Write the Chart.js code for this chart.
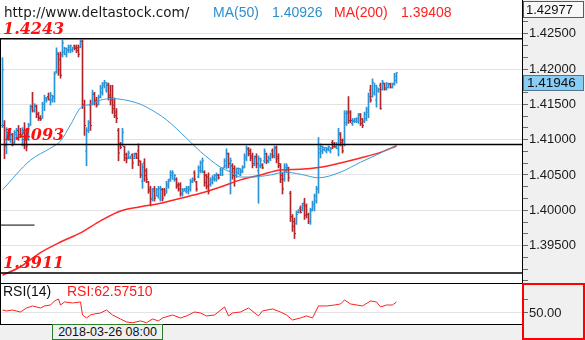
<!DOCTYPE html>
<html>
<head>
<meta charset="utf-8">
<script src="https://cdn.jsdelivr.net/npm/chart.js@4.4.0/dist/chart.umd.min.js"></script>
<style>
  html, body { margin: 0; padding: 0; background: #fff; }
  #wrap { position: relative; width: 585px; height: 340px; overflow: hidden; }
  #main { position: absolute; left: 0; top: 0; }
  #rsi { position: absolute; left: 0; top: 283px; }
  .txt { position: absolute; white-space: nowrap; line-height: 1; }
  #datebox {
    position: absolute; left: 52px; top: 324px; width: 111px; height: 16px;
    box-sizing: border-box; border: 1px solid #2b7d2b; background: #f0f0f0;
    font: 12.5px 'Liberation Sans'; color: #111; text-align: center; line-height: 14px;
  }
</style>
</head>
<body>
<div id="wrap">
  <canvas id="main" width="585" height="283"></canvas>
  <canvas id="rsi" width="585" height="57"></canvas>
  <div class="txt" id="site" style="left:4px;top:4px;font:13.5px 'DejaVu Sans';color:#1a1a1a"></div>
  <div class="txt" id="ma50name" style="left:213px;top:4px;font:14px 'Liberation Sans';color:#2a8fd0"></div>
  <div class="txt" id="ma50value" style="left:272px;top:4px;font:14px 'Liberation Sans';color:#2a8fd0"></div>
  <div class="txt" id="ma200name" style="left:334px;top:4px;font:14px 'Liberation Sans';color:#ff2020"></div>
  <div class="txt" id="ma200value" style="left:401px;top:4px;font:14px 'Liberation Sans';color:#ff2020"></div>
  <div id="datebox"></div>
</div>
<script>
// OHLC bars, oldest first (one bar per slot)
const opens = [
  1.4120, 1.4120, 1.4091, 1.4110, 1.4101, 1.4107, 1.4096, 1.4107, 1.4113, 1.4107,
  1.4104, 1.4113, 1.4101, 1.4101, 1.4121, 1.4147, 1.4141, 1.4147, 1.4136, 1.4131,
  1.4130, 1.4150, 1.4156, 1.4161, 1.4156, 1.4156, 1.4159, 1.4196, 1.4221, 1.4213,
  1.4220, 1.4224, 1.4221, 1.4227, 1.4227, 1.4227, 1.4233, 1.4231, 1.4230, 1.4231,
  1.4239, 1.4149, 1.4084, 1.4113, 1.4149, 1.4150, 1.4164, 1.4156, 1.4150, 1.4160,
  1.4167, 1.4176, 1.4170, 1.4177, 1.4163, 1.4159, 1.4149, 1.4139, 1.4113, 1.4094,
  1.4094, 1.4090, 1.4079, 1.4074, 1.4074, 1.4079, 1.4073, 1.4080, 1.4084, 1.4069,
  1.4041, 1.4067, 1.4056, 1.4040, 1.4030, 1.4016, 1.4030, 1.4020, 1.4020, 1.4016,
  1.4029, 1.4029, 1.4027, 1.4034, 1.4044, 1.4049, 1.4044, 1.4044, 1.4036, 1.4036,
  1.4023, 1.4027, 1.4027, 1.4027, 1.4030, 1.4040, 1.4053, 1.4040, 1.4047, 1.4056,
  1.4056, 1.4054, 1.4049, 1.4047, 1.4036, 1.4039, 1.4044, 1.4044, 1.4050, 1.4050,
  1.4051, 1.4061, 1.4063, 1.4080, 1.4056, 1.4063, 1.4059, 1.4049, 1.4053, 1.4050,
  1.4054, 1.4061, 1.4073, 1.4087, 1.4084, 1.4077, 1.4064, 1.4076, 1.4056, 1.4063,
  1.4064, 1.4070, 1.4080, 1.4069, 1.4073, 1.4084, 1.4077, 1.4089, 1.4076, 1.4063,
  1.4049, 1.4044, 1.4056, 1.4060, 1.4024, 1.3991, 1.3984, 1.3981, 1.3997, 1.4003,
  1.4000, 1.4010, 1.4006, 1.3994, 1.3984, 1.4001, 1.4006, 1.4013, 1.4030, 1.4081,
  1.4084, 1.4086, 1.4084, 1.4086, 1.4084, 1.4096, 1.4094, 1.4089, 1.4087, 1.4107,
  1.4099, 1.4099, 1.4124, 1.4139, 1.4139, 1.4123, 1.4126, 1.4126, 1.4126, 1.4136,
  1.4129, 1.4126, 1.4130, 1.4139, 1.4170, 1.4161, 1.4166, 1.4156, 1.4169, 1.4177,
  1.4171, 1.4179, 1.4171, 1.4174, 1.4179, 1.4174, 1.4179, 1.4184
];
const highs = [
  1.4216, 1.4127, 1.4117, 1.4113, 1.4110, 1.4109, 1.4113, 1.4116, 1.4120, 1.4116,
  1.4117, 1.4124, 1.4113, 1.4123, 1.4149, 1.4167, 1.4151, 1.4149, 1.4139, 1.4134,
  1.4153, 1.4163, 1.4160, 1.4166, 1.4167, 1.4163, 1.4196, 1.4230, 1.4223, 1.4224,
  1.4241, 1.4231, 1.4230, 1.4234, 1.4234, 1.4231, 1.4234, 1.4234, 1.4234, 1.4241,
  1.4241, 1.4156, 1.4117, 1.4127, 1.4156, 1.4170, 1.4167, 1.4160, 1.4163, 1.4177,
  1.4181, 1.4184, 1.4181, 1.4180, 1.4177, 1.4177, 1.4159, 1.4144, 1.4116, 1.4096,
  1.4116, 1.4091, 1.4081, 1.4084, 1.4077, 1.4080, 1.4081, 1.4081, 1.4094, 1.4070,
  1.4066, 1.4073, 1.4059, 1.4041, 1.4034, 1.4031, 1.4034, 1.4031, 1.4034, 1.4034,
  1.4031, 1.4031, 1.4041, 1.4044, 1.4056, 1.4056, 1.4051, 1.4046, 1.4039, 1.4039,
  1.4031, 1.4031, 1.4034, 1.4034, 1.4044, 1.4046, 1.4056, 1.4041, 1.4063, 1.4070,
  1.4074, 1.4056, 1.4051, 1.4053, 1.4046, 1.4049, 1.4051, 1.4053, 1.4051, 1.4060,
  1.4060, 1.4073, 1.4087, 1.4081, 1.4074, 1.4066, 1.4063, 1.4060, 1.4060, 1.4059,
  1.4063, 1.4080, 1.4091, 1.4089, 1.4087, 1.4081, 1.4077, 1.4080, 1.4077, 1.4074,
  1.4066, 1.4087, 1.4081, 1.4077, 1.4081, 1.4087, 1.4091, 1.4091, 1.4080, 1.4066,
  1.4053, 1.4066, 1.4066, 1.4061, 1.4027, 1.3994, 1.3989, 1.3999, 1.4001, 1.4006,
  1.4010, 1.4017, 1.4009, 1.3996, 1.4003, 1.4013, 1.4023, 1.4034, 1.4103, 1.4094,
  1.4091, 1.4089, 1.4089, 1.4091, 1.4089, 1.4099, 1.4096, 1.4096, 1.4116, 1.4110,
  1.4101, 1.4141, 1.4141, 1.4161, 1.4141, 1.4130, 1.4130, 1.4131, 1.4137, 1.4137,
  1.4130, 1.4139, 1.4146, 1.4166, 1.4177, 1.4186, 1.4180, 1.4177, 1.4173, 1.4180,
  1.4184, 1.4180, 1.4181, 1.4180, 1.4180, 1.4180, 1.4194, 1.4195
];
const lows = [
  1.4117, 1.4073, 1.4080, 1.4099, 1.4096, 1.4091, 1.4094, 1.4101, 1.4099, 1.4103,
  1.4091, 1.4087, 1.4084, 1.4099, 1.4120, 1.4139, 1.4139, 1.4131, 1.4127, 1.4127,
  1.4130, 1.4141, 1.4153, 1.4156, 1.4149, 1.4153, 1.4153, 1.4194, 1.4191, 1.4187,
  1.4217, 1.4220, 1.4217, 1.4223, 1.4223, 1.4224, 1.4227, 1.4223, 1.4217, 1.4230,
  1.4144, 1.4106, 1.4063, 1.4110, 1.4113, 1.4149, 1.4149, 1.4146, 1.4149, 1.4159,
  1.4163, 1.4173, 1.4167, 1.4156, 1.4149, 1.4137, 1.4131, 1.4124, 1.4070, 1.4087,
  1.4091, 1.4070, 1.4067, 1.4073, 1.4073, 1.4059, 1.4073, 1.4073, 1.4063, 1.4046,
  1.4031, 1.4041, 1.4039, 1.4024, 1.4006, 1.4013, 1.4013, 1.4020, 1.4017, 1.4013,
  1.4013, 1.4020, 1.4024, 1.4031, 1.4041, 1.4044, 1.4041, 1.4031, 1.4027, 1.4020,
  1.4020, 1.4027, 1.4024, 1.4023, 1.4027, 1.4039, 1.4041, 1.4027, 1.4046, 1.4053,
  1.4053, 1.4034, 1.4030, 1.4023, 1.4034, 1.4037, 1.4041, 1.4041, 1.4044, 1.4049,
  1.4049, 1.4060, 1.4059, 1.4060, 1.4023, 1.4044, 1.4034, 1.4046, 1.4051, 1.4049,
  1.4053, 1.4060, 1.4070, 1.4077, 1.4070, 1.4060, 1.4063, 1.4060, 1.4010, 1.4060,
  1.4059, 1.4067, 1.4066, 1.4067, 1.4070, 1.4074, 1.4074, 1.4067, 1.4060, 1.4039,
  1.4023, 1.4041, 1.4053, 1.4041, 1.3984, 1.3970, 1.3960, 1.3980, 1.3996, 1.3996,
  1.3999, 1.3987, 1.3989, 1.3981, 1.3980, 1.3999, 1.3999, 1.4010, 1.4024, 1.4074,
  1.4080, 1.4084, 1.4081, 1.4084, 1.4081, 1.4087, 1.4089, 1.4087, 1.4077, 1.4091,
  1.4081, 1.4091, 1.4120, 1.4123, 1.4124, 1.4120, 1.4124, 1.4124, 1.4123, 1.4120,
  1.4117, 1.4124, 1.4127, 1.4131, 1.4153, 1.4160, 1.4163, 1.4146, 1.4167, 1.4143,
  1.4170, 1.4170, 1.4170, 1.4173, 1.4173, 1.4173, 1.4177, 1.4180
];
const closes = [
  1.4199, 1.4091, 1.4110, 1.4101, 1.4107, 1.4096, 1.4110, 1.4113, 1.4104, 1.4104,
  1.4113, 1.4099, 1.4091, 1.4119, 1.4144, 1.4141, 1.4149, 1.4136, 1.4130, 1.4129,
  1.4150, 1.4159, 1.4159, 1.4157, 1.4163, 1.4161, 1.4193, 1.4224, 1.4199, 1.4191,
  1.4237, 1.4229, 1.4227, 1.4231, 1.4233, 1.4230, 1.4229, 1.4226, 1.4221, 1.4239,
  1.4149, 1.4120, 1.4113, 1.4124, 1.4120, 1.4166, 1.4153, 1.4149, 1.4160, 1.4173,
  1.4179, 1.4181, 1.4179, 1.4160, 1.4156, 1.4144, 1.4134, 1.4130, 1.4081, 1.4089,
  1.4110, 1.4074, 1.4073, 1.4081, 1.4077, 1.4067, 1.4080, 1.4074, 1.4070, 1.4050,
  1.4061, 1.4049, 1.4044, 1.4027, 1.4016, 1.4027, 1.4017, 1.4029, 1.4031, 1.4030,
  1.4017, 1.4023, 1.4037, 1.4041, 1.4053, 1.4053, 1.4049, 1.4034, 1.4030, 1.4024,
  1.4029, 1.4030, 1.4031, 1.4033, 1.4041, 1.4044, 1.4044, 1.4030, 1.4060, 1.4067,
  1.4070, 1.4039, 1.4034, 1.4027, 1.4043, 1.4046, 1.4049, 1.4050, 1.4046, 1.4057,
  1.4059, 1.4070, 1.4081, 1.4066, 1.4070, 1.4049, 1.4041, 1.4059, 1.4059, 1.4056,
  1.4060, 1.4076, 1.4087, 1.4080, 1.4074, 1.4066, 1.4074, 1.4066, 1.4073, 1.4071,
  1.4060, 1.4083, 1.4070, 1.4074, 1.4079, 1.4077, 1.4087, 1.4073, 1.4066, 1.4044,
  1.4030, 1.4061, 1.4063, 1.4046, 1.3991, 1.3977, 1.3967, 1.3994, 1.4000, 1.3997,
  1.4007, 1.3993, 1.3994, 1.3984, 1.3999, 1.4009, 1.4020, 1.4030, 1.4087, 1.4090,
  1.4089, 1.4089, 1.4087, 1.4090, 1.4087, 1.4090, 1.4090, 1.4093, 1.4110, 1.4096,
  1.4084, 1.4137, 1.4137, 1.4127, 1.4127, 1.4127, 1.4129, 1.4130, 1.4134, 1.4123,
  1.4120, 1.4136, 1.4143, 1.4161, 1.4156, 1.4181, 1.4176, 1.4173, 1.4171, 1.4144,
  1.4181, 1.4173, 1.4179, 1.4179, 1.4174, 1.4179, 1.4190, 1.41946
];

// moving averages, read at sample bars
const ma50Idx = [0, 14, 24, 29, 34, 39, 44, 49, 55, 66, 72, 82, 92, 99, 109, 114, 119, 124, 134, 141, 149, 158, 169, 179, 189, 197];
const ma50Vals = [1.4029, 1.4071, 1.4088, 1.4098, 1.4121, 1.4145, 1.4150, 1.4156, 1.4158, 1.4153, 1.4146, 1.4128, 1.4102, 1.4083, 1.4061, 1.4054, 1.4047, 1.4047, 1.4050, 1.4054, 1.4051, 1.4046, 1.4054, 1.4068, 1.4081, 1.4092];
const ma200Idx = [0, 9, 19, 29, 39, 49, 59, 69, 79, 89, 99, 109, 119, 129, 139, 149, 159, 169, 179, 189, 197];
const ma200Vals = [1.3908, 1.3920, 1.3940, 1.3955, 1.3968, 1.3985, 1.3999, 1.4005, 1.4010, 1.4017, 1.4024, 1.4033, 1.4043, 1.4050, 1.4057, 1.4058, 1.4061, 1.4067, 1.4074, 1.4082, 1.4091];

// RSI(14), read at sample bars
const rsiIdx = [0, 2, 5, 9, 12, 15, 19, 21, 24, 26, 28, 29, 31, 35, 39, 40, 42, 44, 46, 49,
  52, 55, 59, 62, 65, 69, 72, 75, 78, 80, 85, 89, 92, 96, 99, 102, 106, 111, 113, 115,
  119, 123, 128, 130, 135, 139, 142, 145, 149, 152, 155, 158, 162, 166, 169, 171, 174, 180, 184, 187,
  189, 192, 195, 197];
const rsiVals = [53.4, 52.3, 53.4, 51.1, 55.7, 58.0, 55.7, 58.0, 59.1, 63.7, 66.0, 59.1, 62.6, 61.4, 62.6, 47.7, 44.3, 47.7, 48.9, 50.0,
  53.4, 47.7, 43.1, 39.7, 38.8, 40.9, 38.8, 43.1, 40.9, 44.3, 47.7, 44.3, 46.6, 51.1, 50.0, 46.6, 47.7, 56.9, 46.6, 50.0,
  51.1, 55.7, 46.6, 52.3, 54.6, 51.1, 47.7, 42.0, 44.3, 46.6, 44.3, 58.0, 58.0, 59.1, 60.3, 64.9, 60.3, 58.0, 63.7, 62.6,
  56.9, 59.1, 59.1, 62.5751];

// horizontal price levels and their labels
const levelPrices = [1.4243, 1.4093, 1.3911];
const levelLabels = ['1.4243', '1.4093', '1.3911'];
const shortLevel = { price: 1.3979, from: -1.25, to: 16 };

// axis tick labels
const priceTicks = [1.395, 1.400, 1.405, 1.410, 1.415, 1.420, 1.425];
const rsiTicks = [50, 65];
const rsiLabelTick = 50;

const siteText = 'http://www.deltastock.com/';
const ma50Text = ['MA(50)', '1.40926'];
const ma200Text = ['MA(200)', '1.39408'];
const rsiTitle = 'RSI(14)';
const rsiValueText = 'RSI:62.57510';
const dateText = '2018-03-26 08:00';
const highLabel = 1.42977;

// view window
const X_MIN = -1.25, X_MAX = 259.75;
const Y_MIN = 1.3897, Y_MAX = 1.42977;
const RSI_MIN = 37.4, RSI_MAX = 83.1;
const AXIS_W = 63;

const UP = '#2b93d6';
const DOWN = '#b0262b';
const PANEL = '#f0f0f0';

document.getElementById('site').textContent = siteText;
document.getElementById('ma50name').textContent = ma50Text[0];
document.getElementById('ma50value').textContent = ma50Text[1];
document.getElementById('ma200name').textContent = ma200Text[0];
document.getElementById('ma200value').textContent = ma200Text[1];
document.getElementById('datebox').textContent = dateText;

const isUp = i => closes[i] >= opens[i];
const barColor = ctx => (isUp(ctx.dataIndex) ? UP : DOWN);

function isMajor(v) {
  return priceTicks.some(t => Math.abs(t - v) < 1e-7);
}

// majors plus two minor marks between each pair
function buildPriceTicks() {
  const step = priceTicks[1] - priceTicks[0];
  const out = [];
  for (let k = -3; k <= priceTicks.length * 3 + 3; k++) {
    const v = priceTicks[0] + k * step / 3;
    if (v >= Y_MIN && v <= Y_MAX) out.push({ value: v });
  }
  return out;
}

const wickData = opens.map((_, i) => ({ x: i, y: [lows[i], highs[i]] }));
const openData = opens.map((o, i) => ({ x: i - 0.5, y: o }));
const closeData = closes.map((c, i) => ({ x: i + 0.5, y: c }));
const ma50Data = ma50Idx.map((x, k) => ({ x: x, y: ma50Vals[k] }));
const ma200Data = ma200Idx.map((x, k) => ({ x: x, y: ma200Vals[k] }));
const rsiData = rsiIdx.map((x, k) => ({ x: x, y: rsiVals[k] }));

const levelSets = levelPrices.map(p => ({
  type: 'line',
  data: [{ x: X_MIN, y: p }, { x: X_MAX, y: p }],
  borderColor: '#000',
  borderWidth: 1.5,
  pointRadius: 0
}));

const axisFit = s => { s.width = AXIS_W; s.paddingTop = 0; s.paddingBottom = 0; };

const mainPlugin = {
  id: 'mainDeco',
  beforeDraw(chart) {
    const c = chart.ctx, a = chart.chartArea;
    c.save();
    c.fillStyle = '#fff';
    c.fillRect(0, 0, chart.width, chart.height);
    c.fillStyle = PANEL;
    c.fillRect(a.right, 0, chart.width - a.right, chart.height);
    c.restore();
  },
  afterDraw(chart) {
    const c = chart.ctx, a = chart.chartArea, y = chart.scales.y;
    c.save();
    // left frame
    c.strokeStyle = '#000';
    c.lineWidth = 1;
    c.beginPath();
    c.moveTo(0.5, Math.round(y.getPixelForValue(levelPrices[0])));
    c.lineTo(0.5, a.bottom);
    c.stroke();
    // level labels
    c.font = 'bold italic 16px "DejaVu Serif"';
    c.fillStyle = '#ff1010';
    c.textBaseline = 'alphabetic';
    levelPrices.forEach((p, k) => {
      c.fillText(levelLabels[k], 3, y.getPixelForValue(p) - 5);
    });
    // top value box
    c.font = '13px "Liberation Sans"';
    c.textBaseline = 'middle';
    c.fillStyle = '#f8f8f8';
    c.fillRect(a.right + 1, 1, AXIS_W - 2, 17);
    c.strokeStyle = '#2b7d2b';
    c.strokeRect(a.right + 1.5, 1.5, AXIS_W - 3, 16);
    c.fillStyle = '#111';
    c.fillText(highLabel.toFixed(5), a.right + 4, 10);
    // current price box
    const last = closes[closes.length - 1];
    const py = Math.round(y.getPixelForValue(last));
    c.fillStyle = '#87cdf5';
    c.fillRect(a.right + 1, py + 2, AXIS_W - 2, 16);
    c.strokeStyle = '#4f7590';
    c.strokeRect(a.right + 1.5, py + 2.5, AXIS_W - 3, 15);
    c.fillStyle = '#111';
    c.font = '13.5px "Liberation Sans"';
    c.fillText(last.toFixed(5), a.right + 5, py + 10.5);
    c.restore();
  }
};

new Chart(document.getElementById('main'), {
  type: 'bar',
  data: {
    datasets: [
      ...levelSets,
      {
        type: 'line',
        data: [{ x: shortLevel.from, y: shortLevel.price }, { x: shortLevel.to, y: shortLevel.price }],
        borderColor: '#000', borderWidth: 1, pointRadius: 0
      },
      {
        type: 'line', data: ma50Data, borderColor: '#3a9fdc', borderWidth: 1,
        pointRadius: 0, cubicInterpolationMode: 'monotone'
      },
      {
        type: 'line', data: ma200Data, borderColor: '#ff2626', borderWidth: 1.5,
        pointRadius: 0, cubicInterpolationMode: 'monotone'
      },
      {
        type: 'scatter', data: openData, pointStyle: 'line', radius: 0.5,
        borderWidth: 1, borderColor: barColor, backgroundColor: barColor
      },
      {
        type: 'scatter', data: closeData, pointStyle: 'line', radius: 0.5,
        borderWidth: 1, borderColor: barColor, backgroundColor: barColor
      },
      {
        type: 'bar', data: wickData, backgroundColor: barColor,
        barThickness: 1, grouped: false, borderWidth: 0
      }
    ]
  },
  options: {
    responsive: false,
    animation: false,
    events: [],
    layout: { padding: 0, autoPadding: false },
    plugins: { legend: { display: false }, tooltip: { enabled: false } },
    scales: {
      x: { type: 'linear', min: X_MIN, max: X_MAX, offset: false, display: false },
      y: {
        type: 'linear', position: 'right', min: Y_MIN, max: Y_MAX, beginAtZero: false,
        afterFit: axisFit,
        afterBuildTicks: s => { s.ticks = buildPriceTicks(); },
        ticks: {
          autoSkip: false, padding: 1, color: '#1a1a1a',
          font: { family: 'Liberation Sans', size: 13 },
          callback: v => (isMajor(v) ? v.toFixed(5) : '')
        },
        grid: {
          color: ctx => (ctx.tick && isMajor(ctx.tick.value) ? '#e3e3e3' : 'rgba(0,0,0,0)'),
          tickColor: '#6a6a6a', tickLength: 6, lineWidth: 1
        },
        border: { display: true, color: '#000', width: 1 }
      }
    }
  },
  plugins: [mainPlugin]
});

const rsiPlugin = {
  id: 'rsiDeco',
  beforeDraw(chart) {
    const c = chart.ctx, a = chart.chartArea;
    c.save();
    c.fillStyle = '#fff';
    c.fillRect(0, 0, chart.width, chart.height);
    c.fillStyle = PANEL;
    c.fillRect(0, a.bottom, a.right, chart.height - a.bottom);
    c.fillRect(a.right, 0, chart.width - a.right, chart.height);
    c.restore();
  },
  afterDraw(chart) {
    const c = chart.ctx, a = chart.chartArea;
    c.save();
    c.strokeStyle = '#000';
    c.lineWidth = 1;
    c.beginPath();
    c.moveTo(0, 0.5); c.lineTo(a.right, 0.5);
    c.moveTo(0, a.bottom + 0.5); c.lineTo(a.right, a.bottom + 0.5);
    c.moveTo(0.5, 0); c.lineTo(0.5, a.bottom);
    c.stroke();
    c.strokeStyle = '#ff0000';
    c.lineWidth = 2;
    c.strokeRect(a.right + 1, 1, chart.width - a.right - 2, chart.height - 2);
    c.font = '14px "Liberation Sans"';
    c.textBaseline = 'middle';
    c.fillStyle = '#111';
    c.fillText(rsiTitle, 3, 9);
    c.fillStyle = '#ff1a1a';
    c.fillText(rsiValueText, 67, 9);
    c.restore();
  }
};

new Chart(document.getElementById('rsi'), {
  type: 'line',
  data: {
    datasets: [{
      data: rsiData, borderColor: '#ff2020', borderWidth: 1, pointRadius: 0, tension: 0
    }]
  },
  options: {
    responsive: false,
    animation: false,
    events: [],
    layout: { padding: { top: 1, bottom: 16, left: 0, right: 0 }, autoPadding: false },
    plugins: { legend: { display: false }, tooltip: { enabled: false } },
    scales: {
      x: { type: 'linear', min: X_MIN, max: X_MAX, offset: false, display: false },
      y: {
        type: 'linear', position: 'right', min: RSI_MIN, max: RSI_MAX,
        afterFit: axisFit,
        afterBuildTicks: s => { s.ticks = rsiTicks.map(v => ({ value: v })); },
        ticks: {
          autoSkip: false, padding: 1, color: '#1a1a1a',
          font: { family: 'Liberation Sans', size: 13 },
          callback: v => (v === rsiLabelTick ? v.toFixed(2) : '')
        },
        grid: {
          color: ctx => (ctx.tick && ctx.tick.value === rsiLabelTick ? '#e3e3e3' : 'rgba(0,0,0,0)'),
          tickColor: '#6a6a6a', tickLength: 6
        },
        border: { display: false }
      }
    }
  },
  plugins: [rsiPlugin]
});
</script>
</body>
</html>
